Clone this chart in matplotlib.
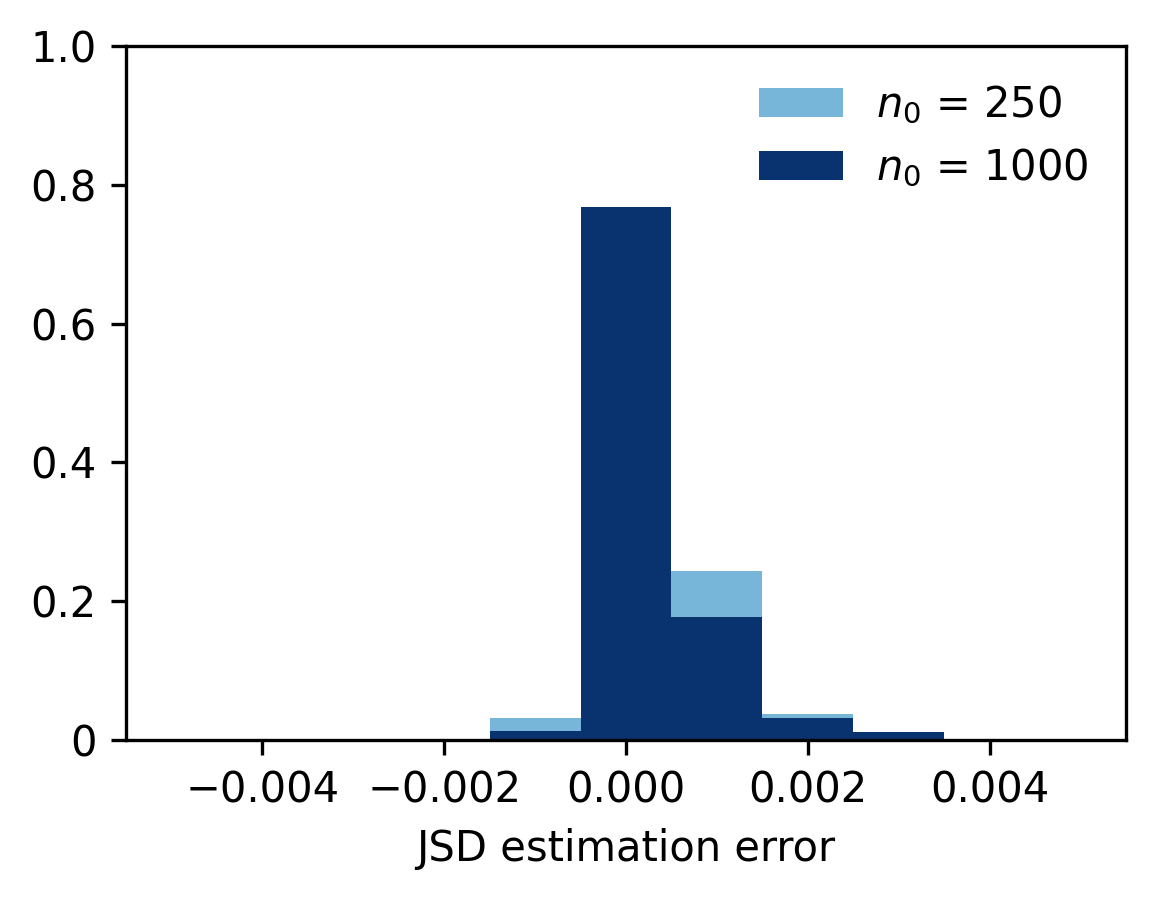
import numpy as np
import matplotlib
matplotlib.use('Agg')
import matplotlib.pyplot as plt
from matplotlib.ticker import FuncFormatter

# bin edges of the JSD estimation error histogram
edges = [-0.0015, -0.0005, 0.0005, 0.0015, 0.0025, 0.0035]
centers = [-0.001, 0.0, 0.001, 0.002, 0.003]
frac_250 = [0.032, 0.677, 0.243, 0.037, 0.010]
frac_1000 = [0.013, 0.768, 0.177, 0.031, 0.011]

fig = plt.figure(figsize=(1158/300, 899/300), dpi=300)
ax = fig.add_axes([0.1088, 0.1769, 0.8636, 0.7719])

ax.hist(centers, bins=edges, weights=frac_250, color='#77b5d9', label=r'$n_0$ = 250')
ax.hist(centers, bins=edges, weights=frac_1000, color='#08336e', label=r'$n_0$ = 1000')

ax.set_xlim(-0.0055, 0.0055)
ax.set_ylim(0, 1.0)
ax.set_xticks([-0.004, -0.002, 0.0, 0.002, 0.004])
ax.set_yticks([0, 0.2, 0.4, 0.6, 0.8, 1.0])
ax.yaxis.set_major_formatter(FuncFormatter(lambda v, p: '0' if v == 0 else f'{v:.1f}'))
ax.set_xlabel('JSD estimation error')
ax.legend(frameon=False, loc='upper right')

fig.savefig('out.png', dpi=300)
